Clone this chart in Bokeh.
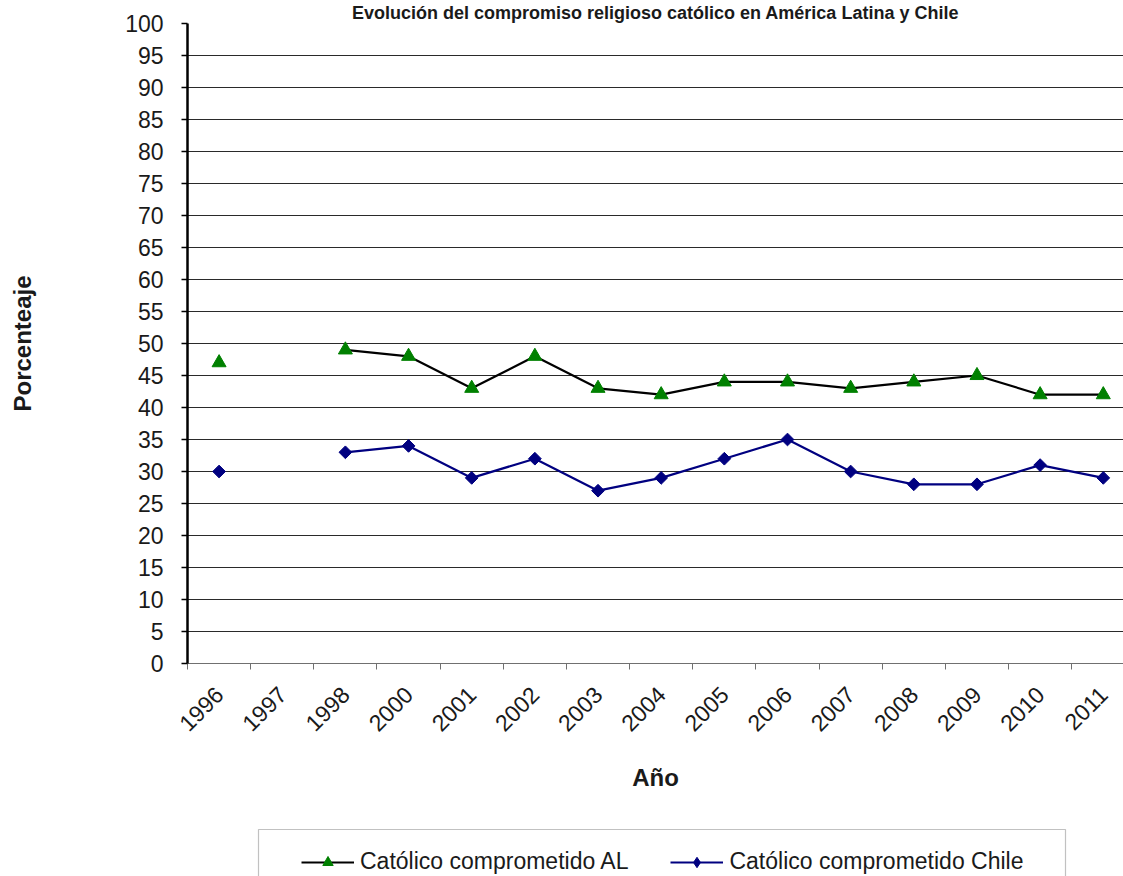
import math
from bokeh.plotting import figure
from bokeh.layouts import column
from bokeh.models import (FixedTicker, Legend, LegendItem, Range1d, ColumnDataSource,
                          BoxAnnotation)
from bokeh.embed import file_html
from bokeh.resources import INLINE

# ---------------- data ----------------
years = ["1996", "1997", "1998", "2000", "2001", "2002", "2003", "2004",
         "2005", "2006", "2007", "2008", "2009", "2010", "2011"]
catolico_al = [47, None, 49, 48, 43, 48, 43, 42, 44, 44, 43, 44, 45, 42, 42]
catolico_chile = [30, None, 33, 34, 29, 32, 27, 29, 32, 35, 30, 28, 28, 31, 29]
y_ticks = list(range(0, 101, 5))
series_labels = ["Católico comprometido AL", "Católico comprometido Chile"]
title_text = "Evolución del compromiso religioso católico en América Latina y Chile"
x_title = "Año"
y_title = "Porcenteaje"

FONT = "Liberation Sans"
TXT = "#1a1a1a"
AL_LINE, AL_MARK = "black", "#008000"
CH_COLOR = "#000080"

xs = list(range(len(years)))
nan = float("nan")
src = ColumnDataSource(dict(
    x=xs,
    al=[nan if v is None else v for v in catolico_al],
    ch=[nan if v is None else v for v in catolico_chile],
))

W = 1123
H_MAIN, H_LEG = 828, 48
LEFT = 187

p = figure(width=W, height=H_MAIN,
           x_range=Range1d(-0.5, len(years) - 0.5 - 0.18),
           y_range=Range1d(0, 100),
           output_backend="svg", toolbar_location=None,
           min_border_left=LEFT, min_border_right=0,
           min_border_top=23, min_border_bottom=165)
p.outline_line_color = None
p.background_fill_color = "white"
p.border_fill_color = "white"

# title
p.title.text = title_text
p.title.align = "center"
p.title.text_font = FONT
p.title.text_font_size = "18px"
p.title.text_font_style = "bold"
p.title.text_color = TXT
p.title.standoff = 1

# y axis
ya = p.yaxis[0]
ya.ticker = FixedTicker(ticks=y_ticks)
ya.axis_line_color = "black"
ya.axis_line_width = 2.5
ya.major_tick_out = 6
ya.major_tick_in = 0
ya.major_tick_line_color = "black"
ya.major_tick_line_width = 1.5
ya.minor_tick_out = 0
ya.minor_tick_in = 0
ya.major_label_text_font = FONT
ya.major_label_text_font_size = "23px"
ya.major_label_text_color = TXT
ya.major_label_standoff = 18
ya.axis_label = y_title
ya.axis_label_text_font = FONT
ya.axis_label_text_font_size = "24px"
ya.axis_label_text_font_style = "bold"
ya.axis_label_text_color = TXT
ya.axis_label_standoff = 86

p.ygrid.ticker = FixedTicker(ticks=y_ticks)
p.ygrid.grid_line_color = "#2a2a2a"
p.ygrid.grid_line_width = 1
p.xgrid.grid_line_color = None

# x axis
xa = p.xaxis[0]
xa.ticker = FixedTicker(ticks=xs, minor_ticks=[i - 0.5 for i in range(len(years) + 1)])
xa.major_label_overrides = {i: y for i, y in enumerate(years)}
xa.major_label_orientation = math.pi / 4
xa.major_tick_out = 0
xa.major_tick_in = 0
xa.minor_tick_out = 6
xa.minor_tick_in = 0
xa.minor_tick_line_color = "#707070"
xa.minor_tick_line_width = 1
xa.axis_line_color = "#707070"
xa.axis_line_width = 1
xa.major_label_text_font = FONT
xa.major_label_text_font_size = "23px"
xa.major_label_text_color = TXT
xa.major_label_standoff = 21
xa.axis_label = x_title
xa.axis_label_text_font = FONT
xa.axis_label_text_font_size = "24px"
xa.axis_label_text_font_style = "bold"
xa.axis_label_text_color = TXT
xa.axis_label_standoff = 22

# series
line_kw_al = dict(line_color=AL_LINE, line_width=2.2)
mark_kw_al = dict(marker="triangle", size=14, fill_color=AL_MARK, line_color=AL_MARK)
line_kw_ch = dict(line_color=CH_COLOR, line_width=2.2)
mark_kw_ch = dict(marker="square", size=9, angle=math.pi / 4,
                  fill_color=CH_COLOR, line_color=CH_COLOR)
legend_mark_ch = dict(marker="diamond", size=14, fill_color=CH_COLOR, line_color=CH_COLOR)

p.line("x", "al", source=src, **line_kw_al)
p.scatter("x", "al", source=src, **mark_kw_al)
p.line("x", "ch", source=src, **line_kw_ch)
p.scatter("x", "ch", source=src, **mark_kw_ch)

# ---------------- legend strip (cropped at the bottom like the reference) ----------------
# its x range is in page pixels; the series proxies fall outside it and are clipped
p2 = figure(width=W, height=H_LEG, x_range=Range1d(LEFT, W), y_range=Range1d(0, H_LEG),
            x_axis_type=None, y_axis_type=None, output_backend="svg",
            toolbar_location=None, min_border=0,
            min_border_left=LEFT, min_border_right=0)
p2.outline_line_color = None
p2.background_fill_color = "white"
p2.border_fill_color = "white"
p2.grid.visible = False

el1 = p2.line("x", "al", source=src, **line_kw_al)
es1 = p2.scatter("x", "al", source=src, **mark_kw_al)
el2 = p2.line("x", "ch", source=src, **line_kw_ch)
es2 = p2.scatter("x", "ch", source=src, **legend_mark_ch)

box = BoxAnnotation(left=258, right=1065, top=H_LEG - 1, bottom=-14,
                    fill_alpha=0, line_color="#333333", line_width=1.2)
p2.add_layout(box)

legend = Legend(items=[LegendItem(label=series_labels[0], renderers=[el1, es1]),
                       LegendItem(label=series_labels[1], renderers=[el2, es2])],
                orientation="horizontal", location=(301 - LEFT, 1),
                glyph_width=53, glyph_height=26, label_standoff=6,
                spacing=42, padding=4, margin=0,
                border_line_color=None, background_fill_alpha=0,
                label_text_font=FONT, label_text_font_size="23px",
                label_text_color=TXT)
p2.add_layout(legend)

layout = column(p, p2, spacing=0)
open("out.html", "w").write(file_html(layout, INLINE))
